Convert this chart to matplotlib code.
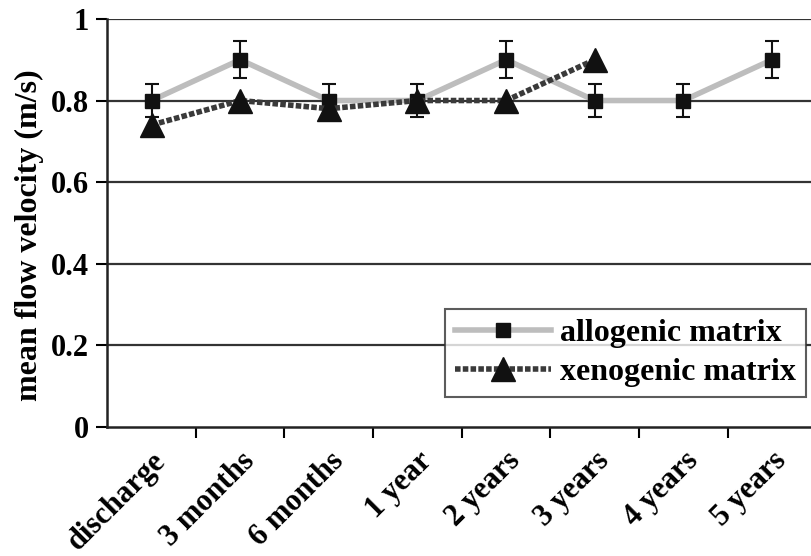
import numpy as np
import matplotlib.pyplot as plt
from matplotlib.ticker import FixedLocator

# data
categories = ["discharge", "3 months", "6 months", "1 year",
              "2 years", "3 years", "4 years", "5 years"]
allo_vals = [0.80, 0.90, 0.80, 0.80, 0.90, 0.80, 0.80, 0.90]
allo_err = [0.04, 0.045, 0.04, 0.04, 0.045, 0.04, 0.04, 0.045]
xeno_vals = [0.74, 0.80, 0.78, 0.80, 0.80, 0.90]
yticks = [0, 0.2, 0.4, 0.6, 0.8, 1]
ytick_labels = ["0", "0.2", "0.4", "0.6", "0.8", "1"]

plt.rcParams['font.family'] = ['Liberation Serif', 'DejaVu Serif']
plt.rcParams['font.weight'] = 'bold'

fig = plt.figure(figsize=(8.12, 5.56), dpi=100)
ax = fig.add_axes([0.132, 0.232, 0.868, 0.734])

x_allo = np.arange(len(allo_vals))
x_xeno = np.arange(len(xeno_vals))

# grid lines
for y in yticks[1:]:
    ax.axhline(y, color='#333333', lw=1.6, zorder=1)

# allogenic: light grey line, black squares, error bars
ax.errorbar(x_allo, allo_vals, yerr=allo_err, fmt='none',
            ecolor='#111111', elinewidth=1.5, capsize=5, capthick=1.5, zorder=3)
ax.plot(x_allo, allo_vals, color='#bdbdbd', lw=4, marker='s', ms=10,
        mfc='#111111', mec='#111111', label='allogenic matrix', zorder=3)
# xenogenic: dark dotted line, black triangles
ax.plot(x_xeno, xeno_vals, color='#3a3a3a', lw=4, ls=(0, (1.0, 0.4)),
        marker='^', ms=17, mfc='#111111', mec='#111111',
        label='xenogenic matrix', zorder=4)

ax.set_xlim(-0.5, 7.45)
ax.set_ylim(0, 1)

ax.set_yticks(yticks)
ax.set_yticklabels(ytick_labels, fontsize=22, fontweight='bold')
ax.tick_params(axis='y', direction='out', length=8, width=1.5, pad=5)

ax.set_xticks(x_allo)
ax.set_xticklabels(categories, rotation=45, ha='right', rotation_mode='anchor',
                   fontsize=22, fontweight='bold')
ax.tick_params(axis='x', which='major', length=0, pad=14)
ax.xaxis.set_minor_locator(FixedLocator(np.arange(len(categories)) + 0.5))
ax.tick_params(axis='x', which='minor', direction='out', length=8, width=1.5)

ax.set_ylabel('mean flow velocity (m/s)', fontsize=23, fontweight='bold')
ax.yaxis.set_label_coords(-0.09, 0.47)

for side in ['top', 'right']:
    ax.spines[side].set_visible(False)
for side in ['left', 'bottom']:
    ax.spines[side].set_linewidth(1.8)
    ax.spines[side].set_color('#222222')

leg = ax.legend(loc='lower right', bbox_to_anchor=(0.991, 0.074),
                prop={'family': 'Liberation Serif', 'weight': 'bold', 'size': 23},
                frameon=True, fancybox=False, edgecolor='#333333',
                handlelength=3.0, borderpad=0.3, labelspacing=0.3,
                handletextpad=0.3, borderaxespad=0)
leg.get_frame().set_linewidth(1.5)
leg.set_zorder(10)

fig.savefig('out.png', dpi=100)
